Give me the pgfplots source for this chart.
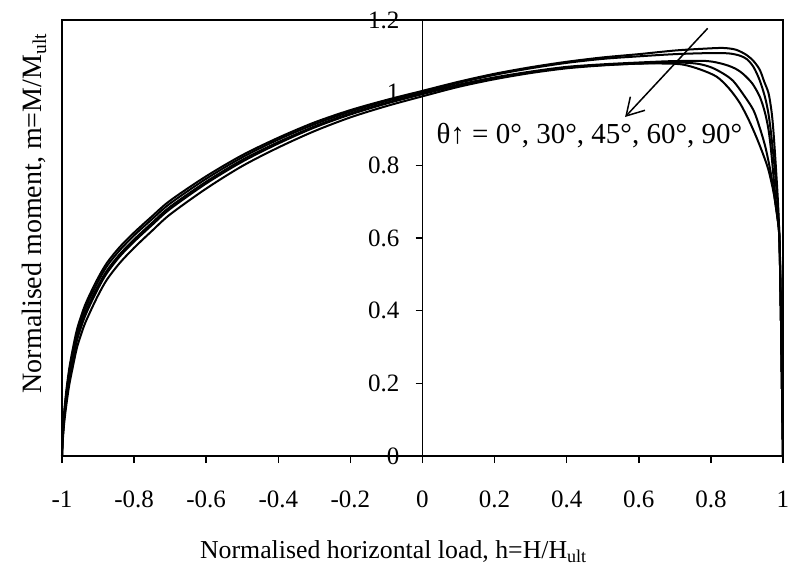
\documentclass[border=0pt]{standalone}
\usepackage{fontspec}
\setmainfont{Liberation Serif}
\usepackage{pgfplots}
\pgfplotsset{compat=1.18}
\usetikzlibrary{arrows.meta}

\begin{document}
\begin{tikzpicture}[font=\fontsize{12.5}{15}\selectfont]
\begin{axis}[name=ax, scale only axis, width=360.5pt, height=218pt,
  xmin=-1, xmax=1, ymin=0, ymax=1.2,
  axis line style={line width=1pt},
  xtick={-1,-0.8,-0.6,-0.4,-0.2,0,0.2,0.4,0.6,0.8,1},
  xticklabels={-1,-0.8,-0.6,-0.4,-0.2,0,0.2,0.4,0.6,0.8,1},
  xticklabel style={yshift=-10.5pt},
  ytick=\empty, xtick pos=left, tick align=outside, major tick length=3.5pt,
  tick style={line width=0.75pt, black},
  clip=false,
  xlabel={Normalised horizontal load, h=H/H\textsubscript{ult}},
  ylabel={Normalised moment, m=M/M\textsubscript{ult}},
  every axis x label/.style={at={(rel axis cs:0.46,-0.234)}, anchor=base, font=\fontsize{12.9}{15}\selectfont},
  every axis y label/.style={at={(rel axis cs:-0.028,0.557)}, rotate=90, anchor=base, font=\fontsize{14}{16}\selectfont},
]
% theta curves (A..E)
\addplot[black, line width=1pt, smooth, tension=0.5] coordinates {
(-1,0) (-0.998,0.06) (-0.994,0.12) (-0.988,0.18) (-0.98,0.24) (-0.97,0.295) (-0.958,0.35) (-0.94,0.405) (-0.925,0.44) (-0.9,0.49) (-0.875,0.532) (-0.84,0.575) (-0.8,0.615) (-0.75,0.66) (-0.7,0.703) (-0.6,0.77) (-0.5,0.828) (-0.4,0.876) (-0.3,0.918) (-0.2,0.952) (-0.1,0.98) (0,1.005)
(0.1,1.03) (0.2,1.052) (0.3,1.07) (0.4,1.085) (0.5,1.097) (0.6,1.106) (0.7,1.116) (0.78,1.121) (0.834,1.123) (0.87,1.118) (0.9,1.103) (0.92,1.085) (0.936,1.062) (0.948,1.03) (0.96,0.998) (0.968,0.95) (0.973,0.9) (0.98,0.8) (0.986,0.7) (0.99,0.6) (0.994,0.4) (0.997,0.2) (1,0)};
\addplot[black, line width=1pt, smooth, tension=0.5] coordinates {
(-1,0) (-0.998,0.056) (-0.994,0.114) (-0.988,0.172) (-0.98,0.231) (-0.97,0.285) (-0.958,0.34) (-0.94,0.395) (-0.925,0.43) (-0.9,0.48) (-0.875,0.523) (-0.84,0.566) (-0.8,0.607) (-0.75,0.652) (-0.7,0.695) (-0.6,0.763) (-0.5,0.822) (-0.4,0.871) (-0.3,0.913) (-0.2,0.948) (-0.1,0.977) (0,1.002)
(0.1,1.027) (0.2,1.049) (0.3,1.067) (0.4,1.082) (0.5,1.093) (0.6,1.1) (0.7,1.106) (0.8,1.109) (0.85,1.108) (0.88,1.102) (0.9,1.092) (0.918,1.071) (0.935,1.035) (0.95,0.988) (0.96,0.94) (0.968,0.878) (0.978,0.78) (0.986,0.68) (0.99,0.6) (0.994,0.4) (0.997,0.2) (1,0)};
\addplot[black, line width=1pt, smooth, tension=0.5] coordinates {
(-1,0) (-0.998,0.051) (-0.994,0.107) (-0.988,0.162) (-0.98,0.22) (-0.97,0.273) (-0.958,0.328) (-0.94,0.383) (-0.925,0.418) (-0.9,0.468) (-0.875,0.511) (-0.84,0.555) (-0.8,0.596) (-0.75,0.642) (-0.7,0.686) (-0.6,0.755) (-0.5,0.815) (-0.4,0.864) (-0.3,0.907) (-0.2,0.943) (-0.1,0.972) (0,0.998)
(0.1,1.022) (0.2,1.042) (0.3,1.058) (0.4,1.071) (0.5,1.078) (0.6,1.083) (0.7,1.087) (0.79,1.087) (0.84,1.077) (0.87,1.065) (0.89,1.051) (0.915,1.025) (0.936,0.988) (0.95,0.945) (0.96,0.897) (0.967,0.84) (0.973,0.777) (0.982,0.68) (0.99,0.6) (0.994,0.4) (0.997,0.2) (1,0)};
\addplot[black, line width=1pt, smooth, tension=0.5] coordinates {
(-1,0) (-0.998,0.048) (-0.994,0.102) (-0.988,0.156) (-0.98,0.213) (-0.97,0.265) (-0.958,0.32) (-0.94,0.375) (-0.925,0.41) (-0.9,0.461) (-0.875,0.504) (-0.84,0.549) (-0.8,0.59) (-0.75,0.636) (-0.7,0.68) (-0.6,0.75) (-0.5,0.81) (-0.4,0.86) (-0.3,0.904) (-0.2,0.94) (-0.1,0.97) (0,0.996)
(0.1,1.02) (0.2,1.04) (0.3,1.056) (0.4,1.069) (0.5,1.076) (0.6,1.08) (0.7,1.083) (0.76,1.08) (0.8,1.07) (0.835,1.052) (0.862,1.032) (0.89,0.995) (0.918,0.952) (0.935,0.905) (0.95,0.855) (0.96,0.81) (0.968,0.768) (0.978,0.7) (0.99,0.6) (0.994,0.4) (0.997,0.2) (1,0)};
\addplot[black, line width=1pt, smooth, tension=0.5] coordinates {
(-1,0) (-0.998,0.04) (-0.994,0.09) (-0.988,0.14) (-0.98,0.195) (-0.97,0.245) (-0.958,0.3) (-0.94,0.355) (-0.925,0.39) (-0.9,0.442) (-0.875,0.486) (-0.84,0.531) (-0.8,0.573) (-0.75,0.62) (-0.7,0.665) (-0.6,0.736) (-0.5,0.798) (-0.4,0.849) (-0.3,0.894) (-0.2,0.932) (-0.1,0.963) (0,0.99)
(0.1,1.016) (0.2,1.037) (0.3,1.054) (0.4,1.067) (0.5,1.075) (0.6,1.08) (0.68,1.08) (0.724,1.077) (0.77,1.064) (0.816,1.044) (0.85,1.012) (0.88,0.972) (0.905,0.925) (0.926,0.878) (0.945,0.83) (0.96,0.786) (0.975,0.72) (0.985,0.655) (0.99,0.6) (0.994,0.4) (0.997,0.2) (1,0)};
\draw[line width=0.75pt, -{Straight Barb[length=8.5pt,width=10pt]}] (axis cs:0.791,1.177) -- (axis cs:0.562,0.933);
\node[anchor=base, font=\fontsize{14.5}{17}\selectfont] at (axis cs:0.463,0.86) {θ↑ = 0°, 30°, 45°, 60°, 90°};
\end{axis}
\begin{axis}[scale only axis, width=360.5pt, height=218pt,
  xmin=-1, xmax=1, ymin=0, ymax=1.2,
  axis x line=none, axis y line=center,
  axis line style={-, line width=0.75pt},
  ytick={0,0.2,0.4,0.6,0.8,1,1.2},
  yticklabels={0,0.2,0.4,0.6,0.8,1,1.2},
  yticklabel style={xshift=-4.5pt},
  tick align=outside, major tick length=3.5pt,
  tick style={line width=0.75pt, black},
]
\end{axis}
\pgfresetboundingbox
\path[use as bounding box] ([shift={(-31pt,-56pt)}]ax.south west) rectangle ([shift={(2.5pt,10pt)}]ax.north east);
\end{tikzpicture}
\end{document}
